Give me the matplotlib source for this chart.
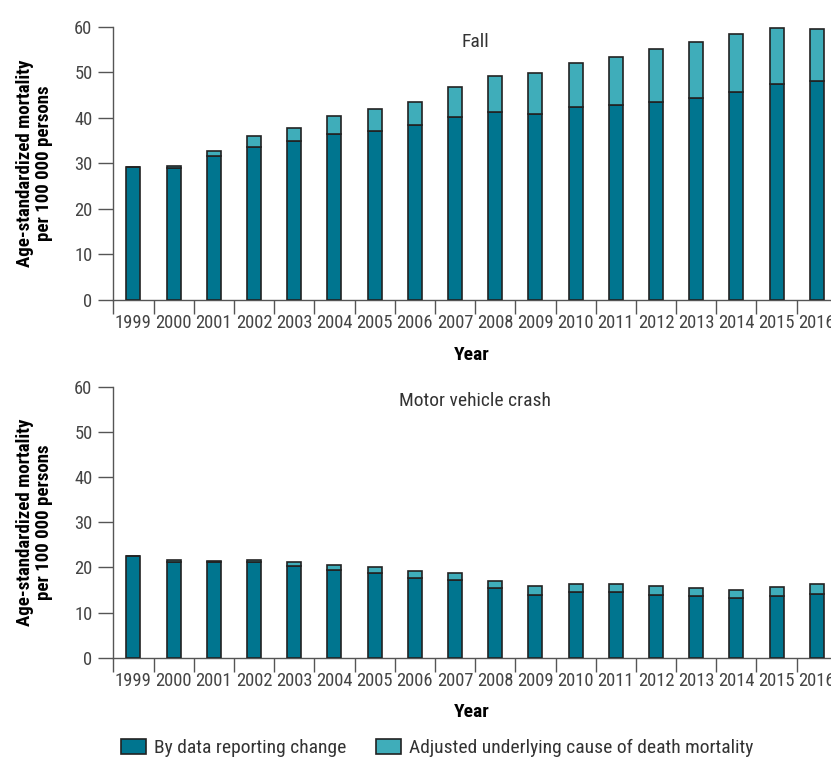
import numpy as np
import matplotlib
matplotlib.use('Agg')
import matplotlib.pyplot as plt
from matplotlib import font_manager
from matplotlib.patches import Patch

# pick a narrow face if one is installed, otherwise shrink the text a bit
fonts = {(f.name, f.stretch) for f in font_manager.fontManager.ttflist}
names = {n for n, s in fonts}
stretch = 'normal'
if 'Liberation Sans Narrow' in names:
    family, k = 'Liberation Sans Narrow', 1.0
elif 'Roboto Condensed' in names:
    family, k = 'Roboto Condensed', 1.0
elif ('DejaVu Sans', 'condensed') in fonts:
    family, k, stretch = 'DejaVu Sans', 0.88, 'condensed'
elif 'Roboto' in names:
    family, k = 'Roboto', 0.88
else:
    family, k = 'DejaVu Sans', 0.8
plt.rcParams['font.family'] = [family, 'DejaVu Sans']
plt.rcParams['font.stretch'] = stretch

years = [str(y) for y in range(1999, 2017)]

# fall: reporting-change part and total after adjustment
fall_base = [29.2, 28.9, 31.6, 33.5, 35.0, 36.4, 37.2, 38.4, 40.2, 41.3,
             40.9, 42.4, 42.9, 43.5, 44.4, 45.7, 47.5, 48.1]
fall_total = [29.2, 29.4, 32.8, 35.9, 37.7, 40.4, 42.0, 43.4, 46.8, 49.2,
              49.8, 52.0, 53.4, 55.0, 56.6, 58.5, 59.8, 59.6]

# motor vehicle crash
mvc_base = [22.6, 21.1, 21.1, 21.1, 20.3, 19.5, 18.8, 17.6, 17.1, 15.4,
            13.9, 14.5, 14.5, 13.9, 13.6, 13.2, 13.6, 14.0]
mvc_total = [22.6, 21.6, 21.5, 21.6, 21.1, 20.6, 20.1, 19.1, 18.7, 17.0,
             15.9, 16.2, 16.2, 15.9, 15.5, 15.0, 15.6, 16.3]

dark = '#00758f'
light = '#3fadba'
edge = '#222222'
grey = '#555555'

W, H = 831, 760
fig = plt.figure(figsize=(W / 100, H / 100), dpi=100)

left = 113.3 / W
width = 18 * 40.2 / W
ax1 = fig.add_axes([left, (H - 300) / H, width, 273.3 / H])
ax2 = fig.add_axes([left, (H - 657.7) / H, width, 271.2 / H])


def draw(ax, base, total, title):
    x = np.arange(len(years))
    base = np.array(base)
    extra = np.array(total) - base
    ax.bar(x, base, width=0.35, color=dark, edgecolor=edge, linewidth=1.2, zorder=3)
    ax.bar(x, extra, bottom=base, width=0.35, color=light, edgecolor=edge,
           linewidth=1.2, zorder=3)
    ax.set_xlim(-0.5, len(years) - 0.5)
    ax.set_ylim(0, 60)
    ax.set_yticks(range(0, 61, 10))
    ax.set_xticks(np.arange(-0.5, len(years), 1))
    ax.set_xticklabels([])
    ax.set_xticks(x, minor=True)
    ax.set_xticklabels(years, minor=True)
    ax.tick_params(axis='x', which='major', length=10, width=1, color=grey, direction='out')
    ax.tick_params(axis='x', which='minor', length=0, pad=10, labelsize=13.3 * k,
                   labelcolor='#444444')
    ax.tick_params(axis='y', length=11, width=1, color=grey, pad=4, labelsize=13.3 * k,
                   labelcolor='#444444')
    for s in ['top', 'right']:
        ax.spines[s].set_visible(False)
    for s in ['left', 'bottom']:
        ax.spines[s].set_color(grey)
        ax.spines[s].set_linewidth(1)
    ax.set_xlabel('Year', fontsize=14 * k, fontweight='bold')
    ax.xaxis.set_label_coords(0.495, -0.168)
    ax.set_ylabel('Age-standardized mortality\nper 100 000 persons', fontsize=13.6 * k,
                  fontweight='bold', linespacing=1.1)
    ax.yaxis.set_label_coords(-0.083, 0.5)
    ax.text(0.5, 0.945, title, transform=ax.transAxes, ha='center', va='center',
            fontsize=14 * k, color='#333333')


draw(ax1, fall_base, fall_total, 'Fall')
draw(ax2, mvc_base, mvc_total, 'Motor vehicle crash')

handles = [Patch(facecolor=dark, edgecolor=edge, linewidth=1.2),
           Patch(facecolor=light, edgecolor=edge, linewidth=1.2)]
fig.legend(handles, ['By data reporting change', 'Adjusted underlying cause of death mortality'],
           loc='center', bbox_to_anchor=(437 / W, (H - 748) / H), ncol=2, frameon=False,
           fontsize=14 * k, handlelength=1.3, handleheight=0.8, handletextpad=0.4,
           columnspacing=1.5, labelcolor='#333333')

fig.savefig('out.png', dpi=100)
